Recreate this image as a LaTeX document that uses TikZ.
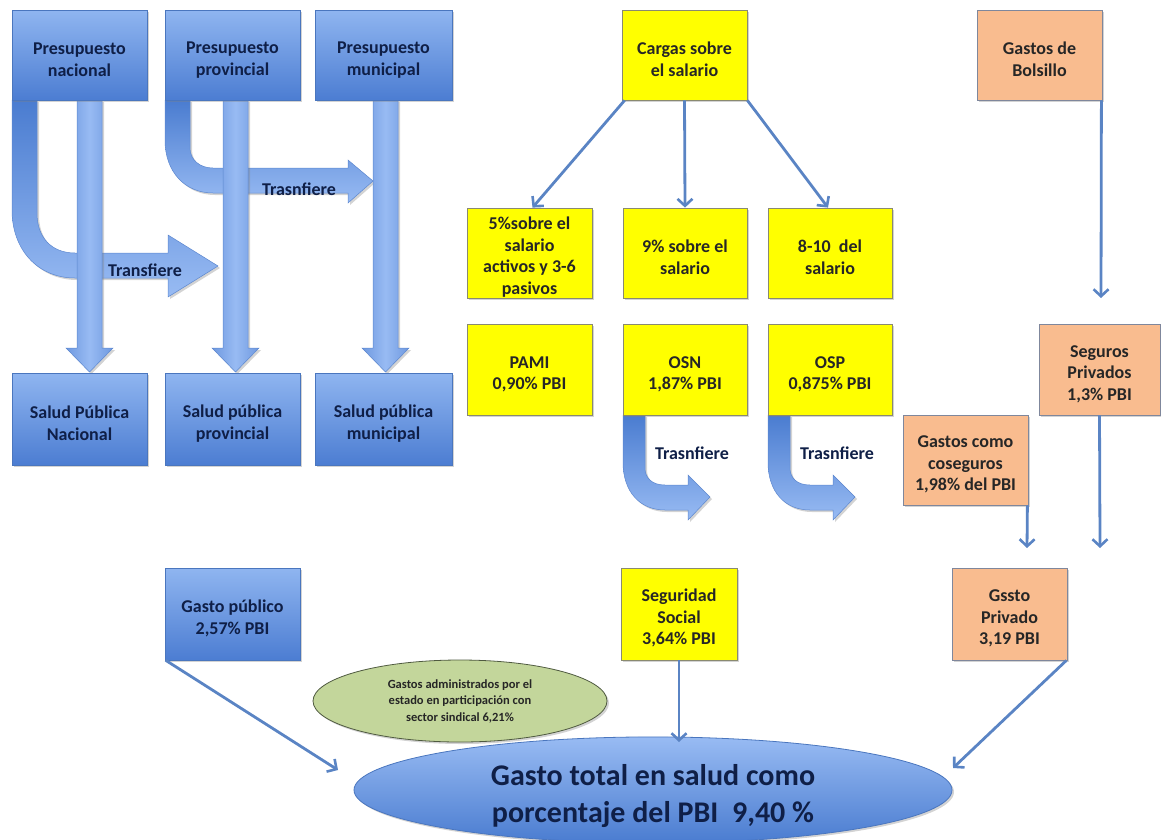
\documentclass[tikz,border=0pt]{standalone}
\usepackage{fontspec}
\setmainfont{Carlito}
\usetikzlibrary{shadows,arrows.meta,calc,shapes.geometric}
\definecolor{bTop}{HTML}{8FB5F0}
\definecolor{bBot}{HTML}{4C7DD2}
\definecolor{bEdge}{HTML}{4A76BE}
\definecolor{navy}{HTML}{0F1F47}
\definecolor{yel}{HTML}{FFFF00}
\definecolor{yEdge}{HTML}{8A8A70}
\definecolor{peach}{HTML}{F9BC8F}
\definecolor{pEdge}{HTML}{7F879C}
\definecolor{grn}{HTML}{C3D69B}
\definecolor{gEdge}{HTML}{4F5A40}
\definecolor{conn}{HTML}{5A84C4}
\definecolor{aLight}{HTML}{98BBF3}
\definecolor{aMid}{HTML}{6F99E0}
\definecolor{aDark}{HTML}{4A7CD0}
\definecolor{aEdge}{HTML}{5C87CF}
\newcommand\tdn{\rule{0pt}{21pt}}
\newcommand\tdnbig{\rule{0pt}{33pt}}
\tikzset{
  shad/.style={drop shadow={shadow xshift=2pt,shadow yshift=-2pt,opacity=0.35}},
  bluebox/.style={rectangle,shad,top color=bTop,bottom color=bBot,draw=bEdge,line width=0.6pt,
    text=navy,font=\bfseries\fontsize{18}{22}\selectfont,align=center,inner sep=0pt,
    minimum width=135pt,minimum height=90pt},
  yelbox/.style={rectangle,shad,fill=yel,draw=yEdge,line width=0.8pt,
    text=black!85,font=\bfseries\fontsize{18}{21.5}\selectfont,align=center,inner sep=0pt,
    minimum width=125pt,minimum height=90pt},
  peachbox/.style={rectangle,shad,fill=peach,draw=pEdge,line width=0.8pt,
    text=black!85,font=\bfseries\fontsize{18}{21.5}\selectfont,align=center,inner sep=0pt,
    minimum width=125pt,minimum height=90pt},
  conn/.style={draw=conn,line width=2.8pt,-{Straight Barb[length=7pt,width=15pt,line width=2.6pt]}},
  blockv/.style={left color=aMid,right color=aMid,middle color=aLight,draw=aEdge,line width=0.5pt,shad},
  bent/.style={top color=aDark,bottom color=aLight,draw=aEdge,line width=0.5pt,shad},
  lbl/.style={text=navy,font=\bfseries\fontsize{18}{22}\selectfont,inner sep=0pt},
}
\begin{document}
\begin{tikzpicture}[x=1pt,y=-1pt]
\useasboundingbox (0,0) rectangle (1161,839);

% ---- bent block arrows (behind)
\path[bent] (12,100) -- (12,210) .. controls (12,250) and (38,278) .. (75,278) -- (168,278) -- (168,297) -- (218,266) -- (168,235) -- (168,253) -- (75,253) .. controls (52,253) and (37,238) .. (37,213) -- (37,100) -- cycle;
\path[bent] (165,100) -- (165,140) .. controls (165,172) and (185,193) .. (213,193) -- (348,193) -- (348,203) -- (373,181) -- (348,160) -- (348,168) -- (213,168) .. controls (200,168) and (190,160) .. (190,148) -- (190,100) -- cycle;
\path[bent] (623,415) -- (623,462) .. controls (623,492) and (640,510) .. (665,510) -- (688,510) -- (688,520) -- (710,497) -- (688,475) -- (688,485) -- (665,485) .. controls (652,485) and (645,478) .. (645,468) -- (645,415) -- cycle;
\path[bent] (768,415) -- (768,462) .. controls (768,492) and (785,510) .. (810,510) -- (833,510) -- (833,520) -- (855,497) -- (833,475) -- (833,485) -- (810,485) .. controls (797,485) and (790,478) .. (790,468) -- (790,415) -- cycle;

% ---- vertical block arrows
\path[blockv] (77,100) -- (77,348) -- (66,348) -- (89.5,372) -- (113,348) -- (102,348) -- (102,100) -- cycle;
\path[blockv] (223,100) -- (223,348) -- (212,348) -- (235.5,372) -- (259,348) -- (248,348) -- (248,100) -- cycle;
\path[blockv] (373,100) -- (373,348) -- (362,348) -- (385.5,372) -- (409,348) -- (398,348) -- (398,100) -- cycle;

% ---- labels on block arrows
\node[lbl] (t1) at (145,270) {Transfiere};
\node[lbl] (t2) at (299,189) {Trasnfiere};
\node[lbl] (t3) at (692,453) {Trasnfiere};
\node[lbl] (t4) at (837,453) {Trasnfiere};

% ---- blue boxes
\node[bluebox] (pn) at (79.5,55) {\tdn Presupuesto\\nacional};
\node[bluebox] (pp) at (232.5,55) {\tdn Presupuesto\\provincial};
\node[bluebox,minimum width=137pt] (pm) at (383.5,55) {\tdn Presupuesto\\municipal};
\node[bluebox,minimum height=92pt] (sn) at (79.5,419) {\tdn Salud Pública\\Nacional};
\node[bluebox,minimum height=92pt] (sp) at (232.5,419) {\tdn Salud pública\\provincial};
\node[bluebox,minimum width=137pt,minimum height=92pt] (sm) at (383.5,419) {\tdn Salud pública\\municipal};
\node[bluebox,minimum height=92pt] (gp) at (232.5,614) {\tdn Gasto público\\2,57\% PBI};

% ---- yellow boxes
\node[yelbox] (cargas) at (684.5,55) {\tdn Cargas sobre\\el salario};
\node[yelbox] (y1) at (529.5,253) {\tdn 5\%sobre el\\salario\\activos y 3-6\\pasivos};
\node[yelbox,minimum width=124pt] (y2) at (685,253) {\tdn 9\% sobre el\\salario};
\node[yelbox,minimum width=124pt] (y3) at (830,253) {\tdn 8-10\ \ del\\salario};
\node[yelbox,minimum height=91pt] (pami) at (529.5,369.5) {\tdn PAMI\\0,90\% PBI};
\node[yelbox,minimum width=124pt,minimum height=91pt] (osn) at (685,369.5) {\tdn OSN\\1,87\% PBI};
\node[yelbox,minimum width=124pt,minimum height=91pt] (osp) at (830,369.5) {\tdn OSP\\0,875\% PBI};
\node[yelbox,minimum width=116pt,minimum height=92pt] (ss) at (679,614) {\tdn Seguridad\\Social\\3,64\% PBI};

% ---- peach boxes
\node[peachbox] (gb) at (1039.5,55) {\tdn Gastos de\\Bolsillo};
\node[peachbox,minimum width=121pt,minimum height=91pt] (spriv) at (1099.5,369.5) {\tdn Seguros\\Privados\\1,3\% PBI};
\node[peachbox] (cos) at (965.5,460) {\tdn Gastos como\\coseguros\\1,98\% del PBI};
\node[peachbox,minimum width=115pt,minimum height=92pt] (gpriv) at (1009.5,614) {\tdn Gssto\\Privado\\3,19 PBI};

% ---- ellipses
\node[ellipse,shad,fill=grn,draw=gEdge,line width=0.8pt,minimum width=294pt,minimum height=82pt,inner sep=0pt,
  text=black!85,font=\bfseries\fontsize{12.5}{16.5}\selectfont,align=center] (adm) at (460,701)
  {Gastos administrados por el\\estado en participación con\\sector sindical 6,21\%};
\node[ellipse,shad,top color=aLight,bottom color=aDark,draw=bEdge,line width=0.8pt,minimum width=598pt,minimum height=92pt,inner sep=0pt,
  text=navy,font=\bfseries\fontsize{30}{37}\selectfont,align=center] (tot) at (653,790)
  {\tdnbig Gasto total en salud como\\porcentaje del PBI\ \ 9,40 \%};

% ---- thin connectors
\coordinate (gbEnd) at (1101,298);
\coordinate (sprivEnd) at (1100,548);
\coordinate (cosEnd) at (1027,548);
\coordinate (gprivEnd) at (953,768);
\coordinate (gpEnd) at (338,770);
\coordinate (ssEnd) at (679,742);
\draw[conn] ($(cargas.south west)+(3,0)$) -- ($(y1.north)+(3,0)$);
\draw[conn] (cargas.south) -- (y2.north);
\draw[conn] (cargas.south east) -- ($(y3.north)+(-2,0)$);
\draw[conn] ($(gb.south east)+(-1,0)$) -- (gbEnd);
\draw[conn] (spriv.south) -- (sprivEnd);
\draw[conn] ($(cos.south east)+(-1,0)$) -- (cosEnd);
\draw[conn] ($(gpriv.south east)+(-1,0)$) -- (gprivEnd);
\draw[conn] ($(gp.south west)+(1,0)$) -- (gpEnd);
\draw[conn] (ss.south) -- (ssEnd);
\end{tikzpicture}
\end{document}
